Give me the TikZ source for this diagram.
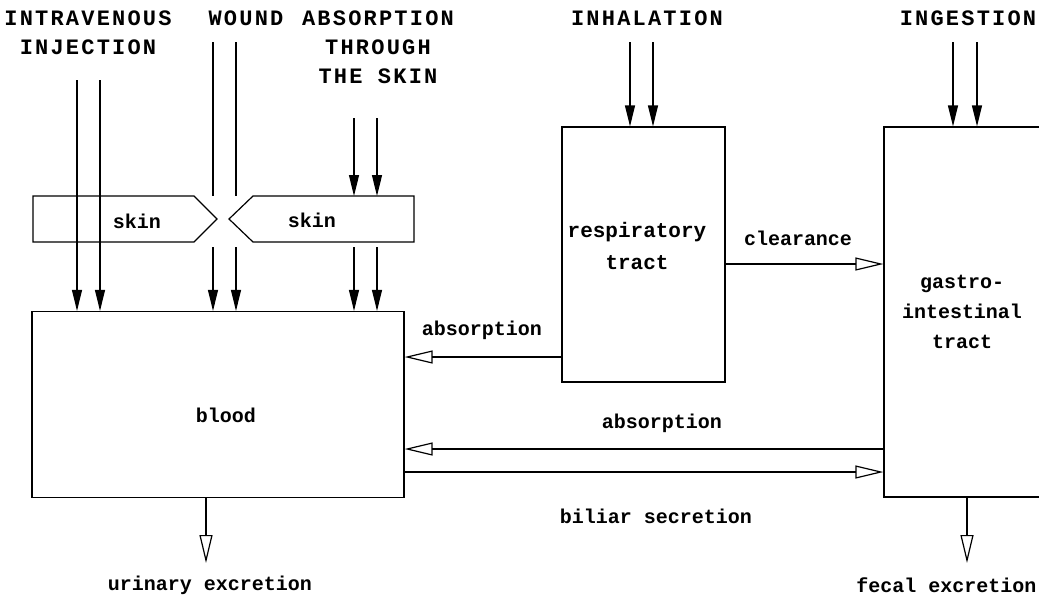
\documentclass[tikz,border=0pt]{standalone}
\usepackage{fontspec}
\usepackage{tikz}
\usetikzlibrary{calc,arrows.meta}
\newfontfamily\routefont{Liberation Mono}[LetterSpace=10]
\newfontfamily\namefont{Liberation Mono}

\tikzset{
  box/.style={draw, inner sep=0pt},
  entry/.style={-{Triangle[length=10.5pt,width=5pt]}},
  transfer/.style={-{Triangle[open,length=14pt,width=6.5pt]}},
  route/.style={font=\routefont\bfseries\fontsize{11}{14.5}\selectfont, align=center, inner sep=0pt},
  term/.style={font=\namefont\bfseries\fontsize{10}{15}\selectfont, align=center, inner sep=0pt},
}

\begin{document}
\begin{tikzpicture}[x=0.5pt, y=-0.5pt, line width=0.6pt]
  \clip (0,0) rectangle (1039,596);

  % Compartments
  \node[box, minimum width=186pt, minimum height=93pt] (blood) at (218,404.5) {};
  \node[term] (bloodtxt) at (226,415) {blood};
  \node[box, minimum width=81.5pt, minimum height=127.5pt] (resp) at (643.5,254.5) {};
  \node[term, font=\namefont\bfseries\fontsize{10.5}{16}\selectfont] (resptxt) at (637,246) {respiratory\\tract};
  \node[box, minimum width=90pt, minimum height=185pt] (gastro) at (974,312) {};
  \node[term] (gastrotxt) at (962,312) {gastro-\\intestinal\\tract};

  % Skin
  \coordinate (skintop) at (0,196);
  \coordinate (below) at (0,247);
  \draw (33,196) -- (194,196) -- (217,219) -- (194,242) -- (33,242) -- cycle;
  \draw (414,196) -- (253,196) -- (229,219) -- (253,242) -- (414,242) -- cycle;
  \node[term] (skinL) at (137,221) {skin};
  \node[term] (skinR) at (312,220) {skin};

  % Routes of entry
  \node[route] (iv) at (88,32.5) {INTRAVENOUS\\INJECTION};
  \node[route] (wound) at (246,18) {WOUND};
  \node[route] (dermal) at (378,47.5) {ABSORPTION\\THROUGH\\THE SKIN};
  \node[route] (inhal) at (647,18) {INHALATION};
  \node[route] (inges) at (968,18) {INGESTION};

  \foreach \x [count=\i] in {77,100} {
    \coordinate (iv\i) at (\x,80);
    \draw[entry] (iv\i) -- (iv\i |- blood.north);
  }
  \foreach \x [count=\i] in {213,236} {
    \coordinate (w\i) at (\x,42);
    \draw (w\i) -- (w\i |- skintop);
    \draw[entry] (w\i |- below) -- (w\i |- blood.north);
  }
  \foreach \x [count=\i] in {354,377} {
    \coordinate (d\i) at (\x,118);
    \draw[entry] (d\i) -- (d\i |- skintop);
    \draw[entry] (d\i |- below) -- (d\i |- blood.north);
  }
  \foreach \x [count=\i] in {630,653} {
    \coordinate (h\i) at (\x,42);
    \draw[entry] (h\i) -- (h\i |- resp.north);
  }
  \foreach \x [count=\i] in {953,977} {
    \coordinate (g\i) at (\x,42);
    \draw[entry] (g\i) -- (g\i |- gastro.north);
  }

  % Exchange between compartments
  \coordinate (yclear) at (0,264);
  \coordinate (yresp) at (0,357);
  \coordinate (ygut) at (0,449);
  \coordinate (ybile) at (0,472);
  \draw[transfer] (resp.east |- yclear) -- (gastro.west |- yclear);
  \node[term] (cleartxt) at (798,238) {clearance};
  \draw[transfer] (resp.west |- yresp) -- (blood.east |- yresp);
  \node[term] (resptxt2) at (482,330) {absorption};
  \draw[transfer] (gastro.west |- ygut) -- (blood.east |- ygut);
  \node[term] (guttxt) at (662,423) {absorption};
  \draw[transfer] (blood.east |- ybile) -- (gastro.west |- ybile);
  \node[term] (biletxt) at (656,516) {biliar secretion};

  % Excretion
  \coordinate (urine) at (206,563);
  \draw[transfer] (urine |- blood.south) -- (urine);
  \node[term] (urinetxt) at (210,585) {urinary excretion};
  \coordinate (feces) at (967,563);
  \draw[transfer] (feces |- gastro.south) -- (feces);
  \node[term, anchor=east] (fecestxt) at (1037,585) {fecal excretion};
\end{tikzpicture}
\end{document}
